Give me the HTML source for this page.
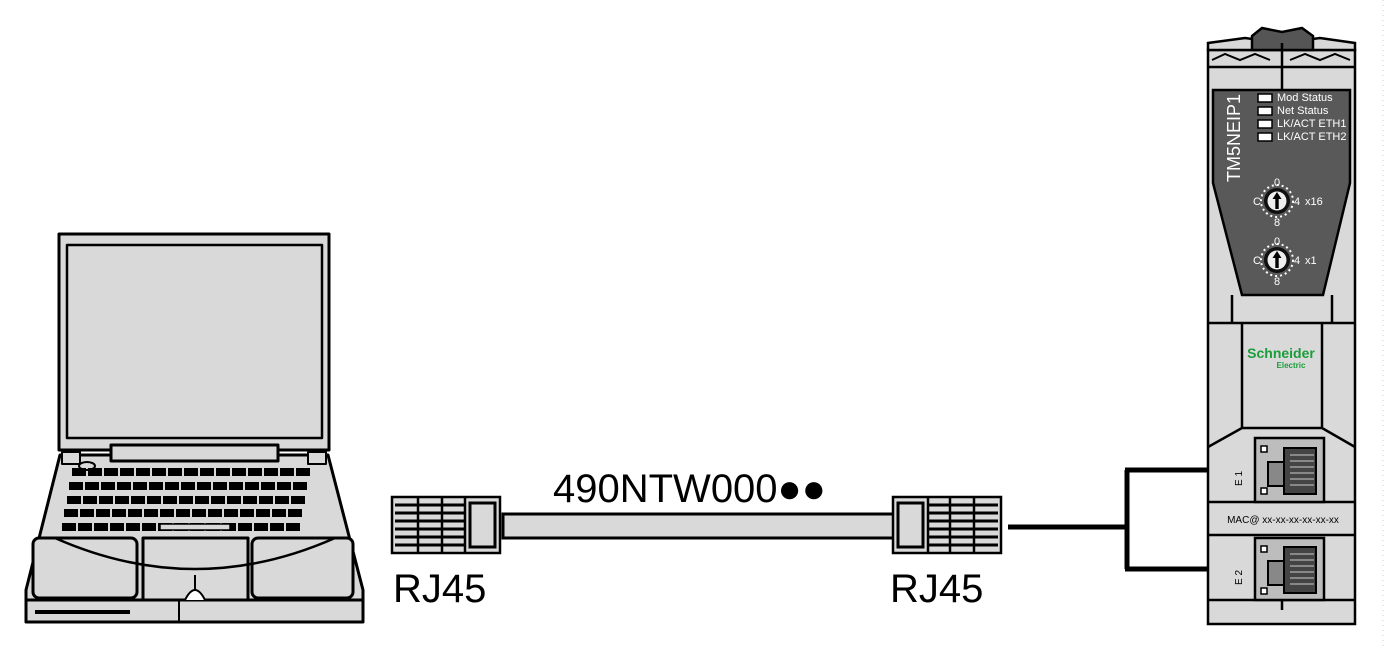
<!DOCTYPE html>
<html><head><meta charset="utf-8"><style>
html,body{margin:0;padding:0;background:#fff}
svg{display:block}
text{font-family:"Liberation Sans",Arial,sans-serif}
</style></head><body>
<svg width="1386" height="648" viewBox="0 0 1386 648" xmlns="http://www.w3.org/2000/svg">
<line x1="1383" y1="0" x2="1383" y2="648" stroke="#ccc" stroke-width="1" stroke-dasharray="1,4"/>
<!-- Laptop -->
<g stroke="#000" fill="#d9d9d9" stroke-width="3" stroke-linejoin="round">
 <rect x="59" y="234" width="270" height="216"/>
 <rect x="67" y="245" width="255" height="193" stroke-width="2.5"/>
 <path d="M60 455 L328 455 L363 590 L363 622 L26 622 L26 590 Z"/>
 <rect x="111" y="445" width="167" height="16"/>
 <rect x="62" y="452" width="18" height="12" stroke-width="2"/>
 <rect x="308" y="452" width="18" height="12" stroke-width="2"/>
 <line x1="26" y1="600" x2="363" y2="600"/>
 <line x1="179" y1="600" x2="179" y2="622" stroke-width="2"/>
 <line x1="35" y1="612" x2="130" y2="612" stroke-width="4"/>
 <rect x="33" y="538" width="104" height="60" rx="6"/>
 <rect x="143" y="538" width="105" height="62"/>
 <rect x="252" y="538" width="101" height="60" rx="6"/>
 <path d="M55 538 Q195 600 335 538" fill="none" stroke-width="2.5"/>
 <line x1="195" y1="575" x2="195" y2="600" stroke-width="2"/>
 <path d="M185 600 Q195 580 205 600" fill="#fff" stroke-width="2"/>
 <ellipse cx="87" cy="466" rx="8" ry="4" stroke-width="2"/>
</g>
<g fill="#000">
 <g id="keyrow">
  <rect x="72" y="468" width="14" height="8"/><rect x="88" y="468" width="14" height="8"/><rect x="104" y="468" width="14" height="8"/><rect x="120" y="468" width="14" height="8"/><rect x="136" y="468" width="14" height="8"/><rect x="152" y="468" width="14" height="8"/><rect x="168" y="468" width="14" height="8"/><rect x="184" y="468" width="14" height="8"/><rect x="200" y="468" width="14" height="8"/><rect x="216" y="468" width="14" height="8"/><rect x="232" y="468" width="14" height="8"/><rect x="248" y="468" width="14" height="8"/><rect x="264" y="468" width="14" height="8"/><rect x="280" y="468" width="14" height="8"/><rect x="296" y="468" width="14" height="8"/>
 </g>
 <use href="#keyrow" transform="translate(-3,14)"/>
 <use href="#keyrow" transform="translate(-5,28)"/>
 <use href="#keyrow" transform="translate(-8,41)"/>
 <use href="#keyrow" transform="translate(-10,55)"/>
</g>
<rect x="160" y="524" width="70" height="6" fill="#d9d9d9" stroke="#000" stroke-width="1.5"/>
<!-- cable -->
<text x="553" y="502" font-size="40">490NTW000●●</text>
<rect x="503" y="514" width="392" height="24" fill="#d9d9d9" stroke="#000" stroke-width="3"/>
<g stroke="#000" stroke-width="2.5" fill="#d9d9d9">
 <rect x="392" y="497" width="108" height="56"/>
 <rect x="470" y="503" width="25" height="44" stroke-width="3"/>
 <line x1="465" y1="497" x2="465" y2="553"/>
 <line x1="442" y1="497" x2="442" y2="553"/>
 <line x1="418" y1="497" x2="418" y2="553"/>
 <rect x="893" y="497" width="108" height="56"/>
 <rect x="898" y="503" width="25" height="44" stroke-width="3"/>
 <line x1="928" y1="497" x2="928" y2="553"/>
 <line x1="950" y1="497" x2="950" y2="553"/>
 <line x1="974" y1="497" x2="974" y2="553"/>
</g>
<g stroke="#000" stroke-width="3">
 <line x1="395" y1="505" x2="465" y2="505"/><line x1="395" y1="513" x2="465" y2="513"/><line x1="395" y1="521" x2="465" y2="521"/><line x1="395" y1="529" x2="465" y2="529"/><line x1="395" y1="537" x2="465" y2="537"/><line x1="395" y1="545" x2="465" y2="545"/>
 <line x1="928" y1="505" x2="998" y2="505"/><line x1="928" y1="513" x2="998" y2="513"/><line x1="928" y1="521" x2="998" y2="521"/><line x1="928" y1="529" x2="998" y2="529"/><line x1="928" y1="537" x2="998" y2="537"/><line x1="928" y1="545" x2="998" y2="545"/>
</g>
<text x="393" y="602" font-size="40">RJ45</text>
<text x="890" y="602" font-size="40">RJ45</text>
<!-- connection -->
<path d="M1008 527 H1127 M1127 470 V569 M1125 470 H1270 M1125 569 H1270" stroke="#000" stroke-width="5" fill="none"/>
<!-- module -->
<g stroke="#000" stroke-width="2.5" fill="#d9d9d9">
 <rect x="1208" y="50" width="147" height="574"/>
 <path d="M1208 50 L1208 43 L1245 38 L1282 43 L1320 38 L1355 43 L1355 50 Z" fill="#d9d9d9"/>
 <path d="M1252 50 L1252 36 L1262 28 L1282 32 L1302 28 L1313 36 L1313 50 Z" fill="#555"/>
 <line x1="1208" y1="67" x2="1355" y2="67"/>
 <line x1="1282" y1="43" x2="1282" y2="90"/>
 <path d="M1213 90 L1350 90 L1350 183 L1323 295 L1242 295 L1213 183 Z" fill="#595959"/>
 <line x1="1208" y1="323" x2="1355" y2="323"/>
 <path d="M1242 323 V428 L1208 447 M1322 323 V428 L1355 447 M1242 428 H1322" fill="none"/>
 <line x1="1232" y1="295" x2="1232" y2="323"/><line x1="1332" y1="295" x2="1332" y2="323"/>
 <line x1="1208" y1="502" x2="1355" y2="502"/>
 <line x1="1208" y1="535" x2="1355" y2="535"/>
 <line x1="1208" y1="600" x2="1355" y2="600"/>
 <line x1="1282" y1="600" x2="1282" y2="610"/>
 <rect x="1255" y="438" width="69" height="64" fill="#bdbdbd"/>
 <rect x="1255" y="538" width="69" height="62" fill="#bdbdbd"/>
</g>
<g stroke="#000" stroke-width="2" fill="none">
 <path d="M1212 60 L1225 54 L1240 60 L1255 54 L1270 60 M1290 60 L1305 54 L1320 60 L1335 54 L1350 60"/>
</g>
<!-- port details -->
<g stroke="#000" stroke-width="2" fill="#888">
 <rect x="1268" y="462" width="16" height="24"/>
 <rect x="1284" y="448" width="32" height="46" fill="#444"/>
 <rect x="1268" y="561" width="16" height="24"/>
 <rect x="1284" y="547" width="32" height="46" fill="#444"/>
</g>
<g stroke="#ccc" stroke-width="1">
 <line x1="1290" y1="455" x2="1314" y2="455"/><line x1="1290" y1="461" x2="1314" y2="461"/><line x1="1290" y1="467" x2="1314" y2="467"/><line x1="1290" y1="473" x2="1314" y2="473"/><line x1="1290" y1="479" x2="1314" y2="479"/><line x1="1290" y1="485" x2="1314" y2="485"/>
 <line x1="1290" y1="554" x2="1314" y2="554"/><line x1="1290" y1="560" x2="1314" y2="560"/><line x1="1290" y1="566" x2="1314" y2="566"/><line x1="1290" y1="572" x2="1314" y2="572"/><line x1="1290" y1="578" x2="1314" y2="578"/><line x1="1290" y1="584" x2="1314" y2="584"/>
</g>
<g fill="#fff" stroke="#000" stroke-width="1.5">
 <rect x="1261" y="446" width="6" height="6"/><rect x="1261" y="488" width="6" height="6"/>
 <rect x="1261" y="546" width="6" height="6"/><rect x="1261" y="588" width="6" height="6"/>
</g>
<text x="1242" y="486" font-size="10" transform="rotate(-90 1242 486)">E 1</text>
<text x="1242" y="585" font-size="10" transform="rotate(-90 1242 585)">E 2</text>
<text x="1283" y="523" font-size="10" text-anchor="middle">MAC@ xx-xx-xx-xx-xx-xx</text>
<text x="1281" y="358" font-size="14" font-weight="bold" fill="#1a9e3a" text-anchor="middle">Schneider</text>
<text x="1291" y="368" font-size="8" font-weight="bold" fill="#1a9e3a" text-anchor="middle">Electric</text>
<!-- LEDs -->
<g fill="#fff" stroke="#000" stroke-width="1.5">
 <rect x="1258" y="94" width="14" height="8"/><rect x="1258" y="107" width="14" height="8"/><rect x="1258" y="120" width="14" height="8"/><rect x="1258" y="133" width="14" height="8"/>
</g>
<g fill="#fff" font-size="11">
 <text x="1277" y="101">Mod Status</text><text x="1277" y="114">Net Status</text><text x="1277" y="127">LK/ACT ETH1</text><text x="1277" y="140">LK/ACT ETH2</text>
 <text x="1240" y="182" font-size="18" transform="rotate(-90 1240 182)">TM5NEIP1</text>
 <text x="1305" y="205">x16</text><text x="1305" y="264">x1</text>
</g>
<g font-size="11" fill="#fff" text-anchor="middle">
 <text x="1277" y="186">0</text><text x="1277" y="226">8</text><text x="1257" y="205">C</text><text x="1297" y="205">4</text>
 <text x="1277" y="245">0</text><text x="1277" y="285">8</text><text x="1257" y="264">C</text><text x="1297" y="264">4</text>
</g>
<g>
 <circle cx="1277" cy="201" r="16" fill="none" stroke="#fff" stroke-width="2" stroke-dasharray="2,3"/>
 <circle cx="1277" cy="201" r="13" fill="#111"/>
 <circle cx="1277" cy="201" r="9.5" fill="#eee"/>
 <path d="M1277 192 L1281.5 199 L1278.7 199 L1278.7 209 L1275.3 209 L1275.3 199 L1272.5 199 Z" fill="#000"/>
 <circle cx="1277" cy="260" r="16" fill="none" stroke="#fff" stroke-width="2" stroke-dasharray="2,3"/>
 <circle cx="1277" cy="260" r="13" fill="#111"/>
 <circle cx="1277" cy="260" r="9.5" fill="#eee"/>
 <path d="M1277 251 L1281.5 258 L1278.7 258 L1278.7 268 L1275.3 268 L1275.3 258 L1272.5 258 Z" fill="#000"/>
</g>
</svg>
</body></html>
